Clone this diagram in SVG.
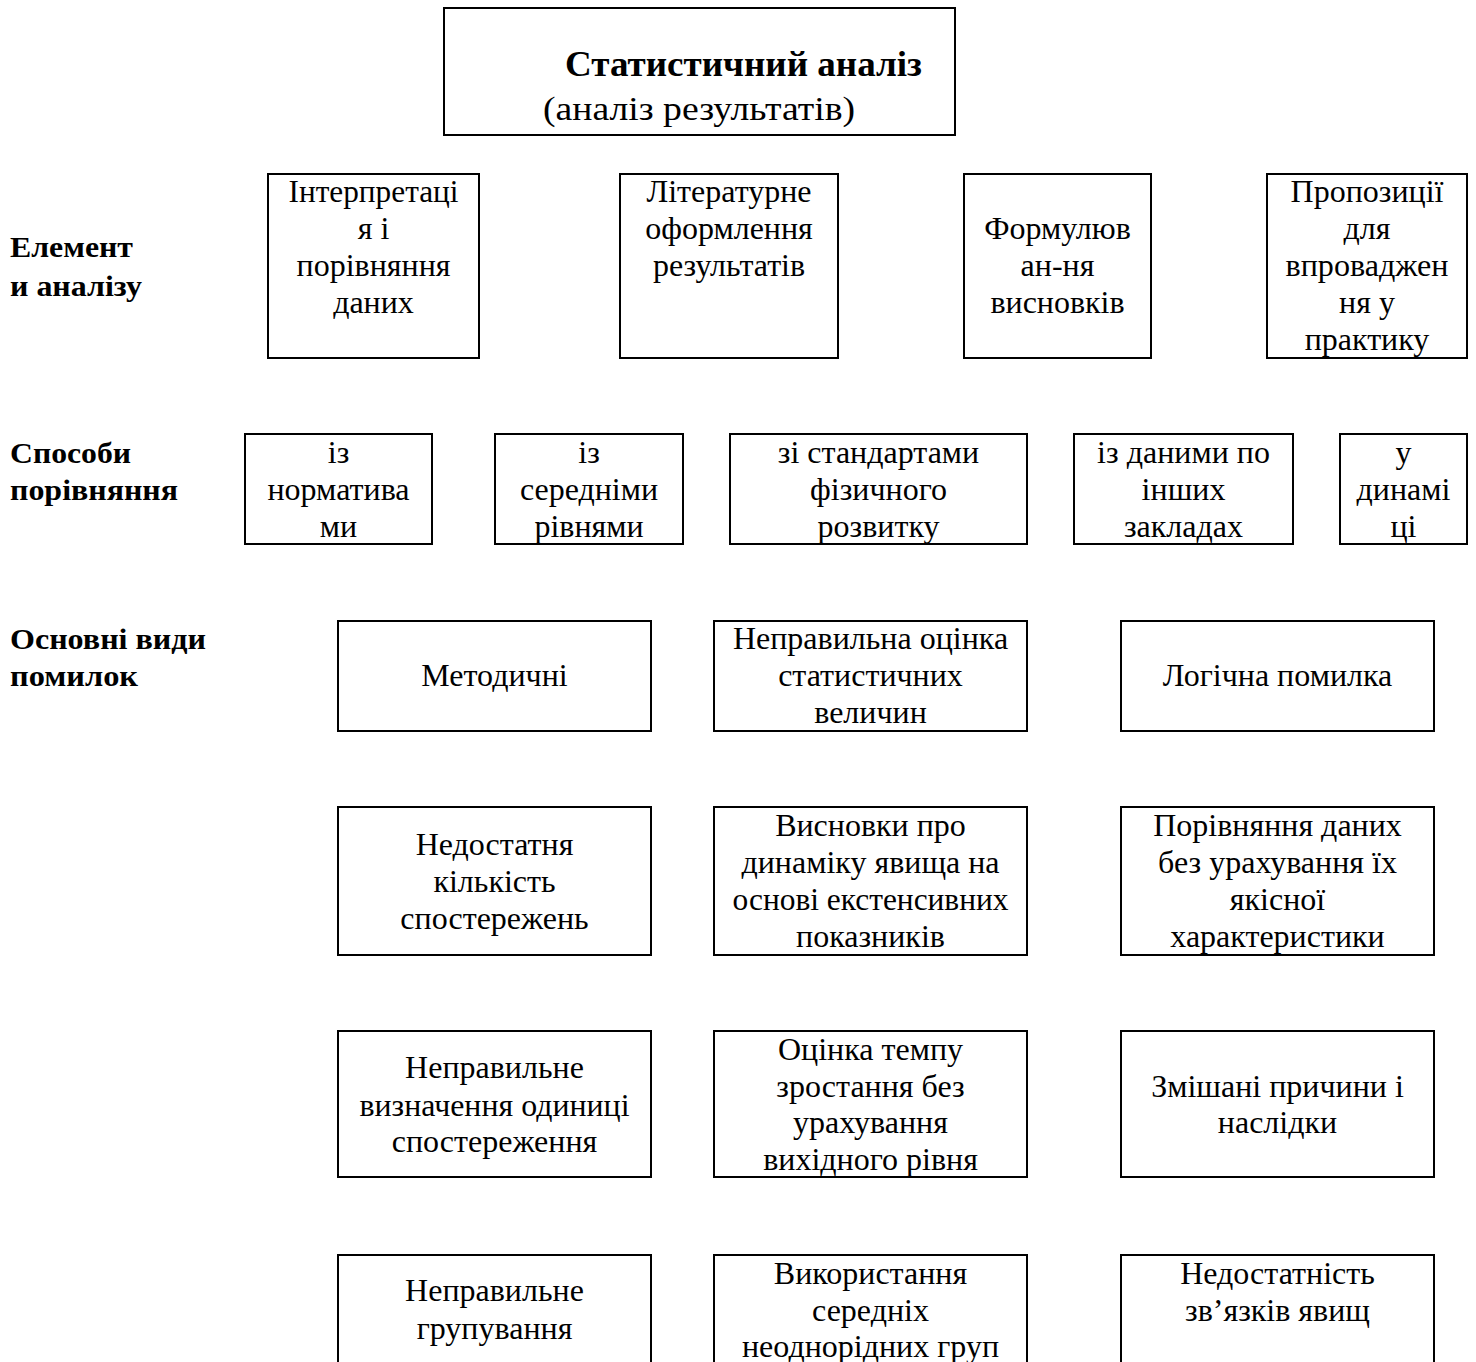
<svg xmlns="http://www.w3.org/2000/svg" width="1476" height="1362" viewBox="0 0 1476 1362">
<style>
rect.b{fill:#fff;stroke:#000;stroke-width:2}
text{font-family:"Liberation Serif","Times New Roman",serif;fill:#000}
.t{font-size:32px;text-anchor:middle}
.l{font-size:30px;font-weight:bold}
.h{font-size:35px;font-weight:bold}
.s{font-size:34px}
</style>
<rect width="1476" height="1362" fill="#fff"/>
<g id="title">
<rect class="b" x="444" y="8" width="511" height="127"/>
<text class="h" x="565" y="76" textLength="357" lengthAdjust="spacingAndGlyphs">Статистичний аналіз</text>
<text class="s" x="543" y="120" textLength="312" lengthAdjust="spacingAndGlyphs">(аналіз результатів)</text>
</g>
<g id="label-elements">
<text class="l" x="10" y="257" textLength="123" lengthAdjust="spacingAndGlyphs">Елемент</text>
<text class="l" x="10" y="296" textLength="132" lengthAdjust="spacingAndGlyphs">и аналізу</text>
</g>
<g id="label-ways">
<text class="l" x="10" y="463" textLength="121" lengthAdjust="spacingAndGlyphs">Способи</text>
<text class="l" x="10" y="500" textLength="168" lengthAdjust="spacingAndGlyphs">порівняння</text>
</g>
<g id="label-errors">
<text class="l" x="10" y="649" textLength="196" lengthAdjust="spacingAndGlyphs">Основні види</text>
<text class="l" x="10" y="686" textLength="128" lengthAdjust="spacingAndGlyphs">помилок</text>
</g>
<g id="e1">
<rect class="b" x="268" y="174" width="211" height="184"/>
<text class="t" x="373.5" y="202" textLength="170" lengthAdjust="spacingAndGlyphs">Інтерпретаці</text>
<text class="t" x="373.5" y="239">я і</text>
<text class="t" x="373.5" y="276">порівняння</text>
<text class="t" x="373.5" y="313">даних</text>
</g>
<g id="e2">
<rect class="b" x="620" y="174" width="218" height="184"/>
<text class="t" x="729" y="202">Літературне</text>
<text class="t" x="729" y="239">оформлення</text>
<text class="t" x="729" y="276">результатів</text>
</g>
<g id="e3">
<rect class="b" x="964" y="174" width="187" height="184"/>
<text class="t" x="1057.5" y="239">Формулюв</text>
<text class="t" x="1057.5" y="276">ан-ня</text>
<text class="t" x="1057.5" y="313">висновків</text>
</g>
<g id="e4">
<rect class="b" x="1267" y="174" width="200" height="184"/>
<text class="t" x="1367" y="202">Пропозиції</text>
<text class="t" x="1367" y="239">для</text>
<text class="t" x="1367" y="276" textLength="163" lengthAdjust="spacingAndGlyphs">впроваджен</text>
<text class="t" x="1367" y="313">ня у</text>
<text class="t" x="1367" y="350">практику</text>
</g>
<g id="w1">
<rect class="b" x="245" y="434" width="187" height="110"/>
<text class="t" x="338.5" y="463">із</text>
<text class="t" x="338.5" y="500">норматива</text>
<text class="t" x="338.5" y="537">ми</text>
</g>
<g id="w2">
<rect class="b" x="495" y="434" width="188" height="110"/>
<text class="t" x="589" y="463">із</text>
<text class="t" x="589" y="500">середніми</text>
<text class="t" x="589" y="537">рівнями</text>
</g>
<g id="w3">
<rect class="b" x="730" y="434" width="297" height="110"/>
<text class="t" x="878.5" y="463">зі стандартами</text>
<text class="t" x="878.5" y="500">фізичного</text>
<text class="t" x="878.5" y="537">розвитку</text>
</g>
<g id="w4">
<rect class="b" x="1074" y="434" width="219" height="110"/>
<text class="t" x="1183.5" y="463">із даними по</text>
<text class="t" x="1183.5" y="500">інших</text>
<text class="t" x="1183.5" y="537">закладах</text>
</g>
<g id="w5">
<rect class="b" x="1340" y="434" width="127" height="110"/>
<text class="t" x="1403.5" y="463">у</text>
<text class="t" x="1403.5" y="500">динамі</text>
<text class="t" x="1403.5" y="537">ці</text>
</g>
<g id="r1c1">
<rect class="b" x="338" y="621" width="313" height="110"/>
<text class="t" x="494.5" y="686">Методичні</text>
</g>
<g id="r1c2">
<rect class="b" x="714" y="621" width="313" height="110"/>
<text class="t" x="870.5" y="649">Неправильна оцінка</text>
<text class="t" x="870.5" y="686">статистичних</text>
<text class="t" x="870.5" y="723">величин</text>
</g>
<g id="r1c3">
<rect class="b" x="1121" y="621" width="313" height="110"/>
<text class="t" x="1277.5" y="686">Логічна помилка</text>
</g>
<g id="r2c1">
<rect class="b" x="338" y="807" width="313" height="148"/>
<text class="t" x="494.5" y="855">Недостатня</text>
<text class="t" x="494.5" y="892">кількість</text>
<text class="t" x="494.5" y="929">спостережень</text>
</g>
<g id="r2c2">
<rect class="b" x="714" y="807" width="313" height="148"/>
<text class="t" x="870.5" y="836">Висновки про</text>
<text class="t" x="870.5" y="873">динаміку явища на</text>
<text class="t" x="870.5" y="910" textLength="276" lengthAdjust="spacingAndGlyphs">основі екстенсивних</text>
<text class="t" x="870.5" y="947">показників</text>
</g>
<g id="r2c3">
<rect class="b" x="1121" y="807" width="313" height="148"/>
<text class="t" x="1277.5" y="836">Порівняння даних</text>
<text class="t" x="1277.5" y="873">без урахування їх</text>
<text class="t" x="1277.5" y="910">якісної</text>
<text class="t" x="1277.5" y="947">характеристики</text>
</g>
<g id="r3c1">
<rect class="b" x="338" y="1031" width="313" height="146"/>
<text class="t" x="494.5" y="1078">Неправильне</text>
<text class="t" x="494.5" y="1116" textLength="270" lengthAdjust="spacingAndGlyphs">визначення одиниці</text>
<text class="t" x="494.5" y="1152">спостереження</text>
</g>
<g id="r3c2">
<rect class="b" x="714" y="1031" width="313" height="146"/>
<text class="t" x="870.5" y="1060">Оцінка темпу</text>
<text class="t" x="870.5" y="1097">зростання без</text>
<text class="t" x="870.5" y="1133">урахування</text>
<text class="t" x="870.5" y="1170">вихідного рівня</text>
</g>
<g id="r3c3">
<rect class="b" x="1121" y="1031" width="313" height="146"/>
<text class="t" x="1277.5" y="1097">Змішані причини і</text>
<text class="t" x="1277.5" y="1133">наслідки</text>
</g>
<g id="r4c1">
<rect class="b" x="338" y="1255" width="313" height="120"/>
<text class="t" x="494.5" y="1301">Неправильне</text>
<text class="t" x="494.5" y="1339">групування</text>
</g>
<g id="r4c2">
<rect class="b" x="714" y="1255" width="313" height="120"/>
<text class="t" x="870.5" y="1284">Використання</text>
<text class="t" x="870.5" y="1321">середніх</text>
<text class="t" x="870.5" y="1357">неоднорідних груп</text>
</g>
<g id="r4c3">
<rect class="b" x="1121" y="1255" width="313" height="120"/>
<text class="t" x="1277.5" y="1284">Недостатність</text>
<text class="t" x="1277.5" y="1321">зв’язків явищ</text>
</g>
<g id="connectors"/>
</svg>
